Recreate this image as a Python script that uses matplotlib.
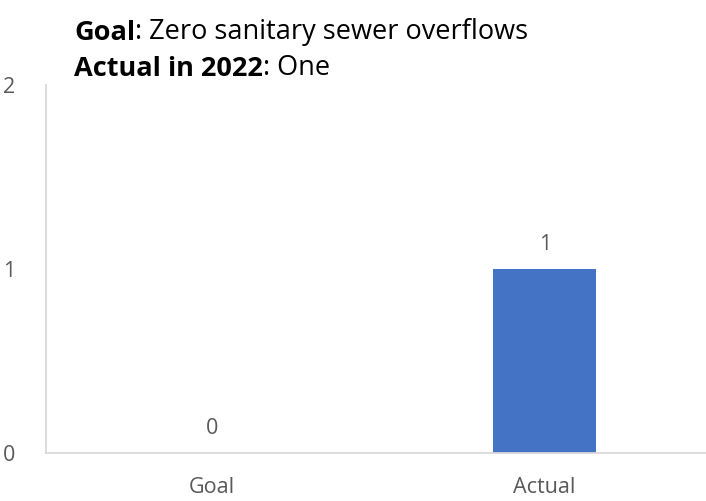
import matplotlib.pyplot as plt

categories = ["Goal", "Actual"]
values = [0, 1]
yticks = [0, 1, 2]

plt.rcParams["font.family"] = ["Open Sans", "DejaVu Sans"]

fig = plt.figure(figsize=(7.06, 5.01), dpi=100)
ax = fig.add_axes([0.065, 0.0958, 0.942, 0.734])

x = range(len(categories))
ax.bar(x, values, width=0.31, color="#4472C4")

for xi, v in zip(x, values):
    ax.annotate(str(v), xy=(xi, v), xytext=(0, 10), textcoords="offset points",
                ha="center", va="bottom", fontsize=15.5, color="#595959")

ax.set_xlim(-0.5, 1.5)
ax.set_ylim(0, 2)
ax.set_xticks(list(x))
ax.set_xticklabels(categories, fontsize=15.5, color="#595959")
ax.set_yticks(yticks)
ax.set_yticklabels([str(t) for t in yticks], fontsize=15.5, color="#595959")
ax.tick_params(length=0, axis="x", pad=17)
ax.tick_params(length=0, axis="y", pad=22)

for side in ["top", "right"]:
    ax.spines[side].set_visible(False)
for side in ["left", "bottom"]:
    ax.spines[side].set_color("#d9d9d9")
    ax.spines[side].set_linewidth(1.3)

# two-line heading, bold label followed by regular text
t1 = fig.text(0.105, 0.909, "Goal", fontsize=19.5, fontweight="bold", va="bottom")
ax.annotate(": Zero sanitary sewer overflows", xy=(1, 0), xycoords=t1,
            fontsize=19.5, va="bottom", ha="left", annotation_clip=False)
t2 = fig.text(0.105, 0.836, "Actual in 2022", fontsize=19.5, fontweight="bold", va="bottom")
ax.annotate(": One", xy=(1, 0), xycoords=t2,
            fontsize=19.5, va="bottom", ha="left", annotation_clip=False)

fig.savefig("out.png", dpi=100)
